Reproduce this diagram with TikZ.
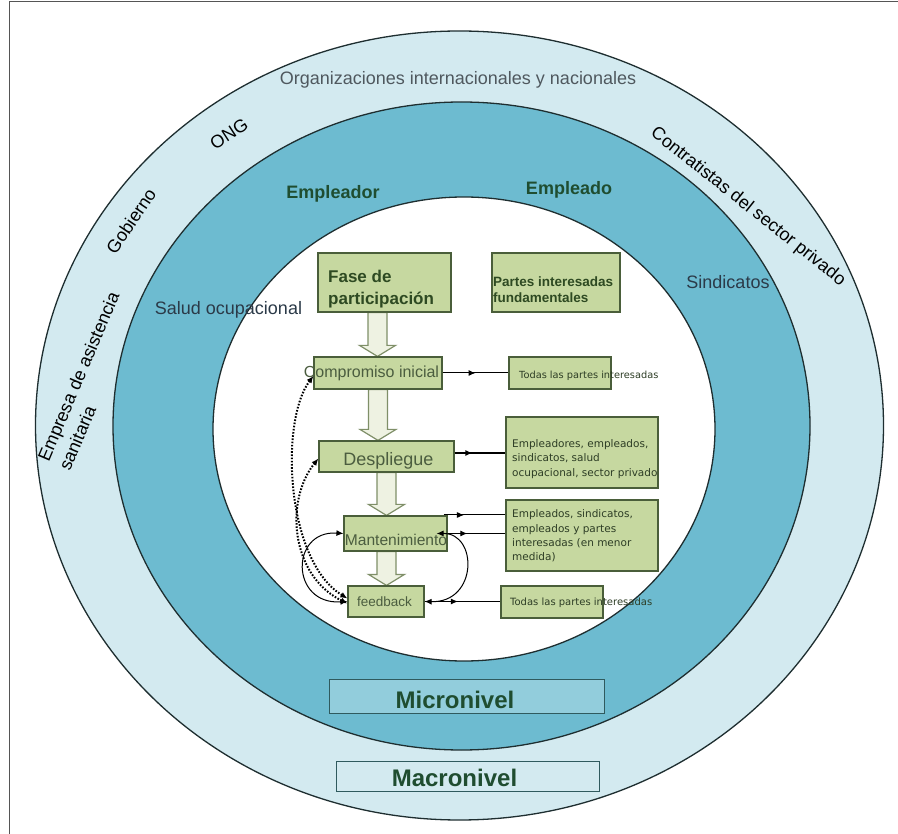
\documentclass[tikz,border=0pt]{standalone}
\usepackage{fontspec}
\setmainfont{Liberation Sans}
\newfontfamily\verdfont{DejaVu Sans}
\usetikzlibrary{arrows.meta,decorations.markings,calc}
\pgfdeclarelayer{bg}
\pgfsetlayers{bg,main}
\definecolor{outerc}{HTML}{D3EAF0}
\definecolor{midc}{HTML}{6DBBD0}
\definecolor{ringline}{HTML}{1E2E30}
\definecolor{boxfill}{HTML}{C6D8A0}
\definecolor{boxline}{HTML}{4A5E3A}
\definecolor{arrfill}{HTML}{EEF2E2}
\definecolor{arrline}{HTML}{7F8F68}
\definecolor{dkgreen}{HTML}{1F4D30}
\definecolor{txtgreen}{HTML}{2E4A22}
\definecolor{midtxt}{HTML}{4B5D3F}
\definecolor{smalltxt}{HTML}{2D3D25}
\definecolor{graytxt}{HTML}{4F585E}
\definecolor{bluetxt}{HTML}{2B3A48}
\definecolor{microfill}{HTML}{92CDDC}
\definecolor{lvline}{HTML}{2F5A5E}
\definecolor{framec}{HTML}{555555}
\tikzset{
  >={Latex[length=7pt,width=6pt]},
  gbox/.style={draw=boxline, line width=1.2pt, fill=boxfill, inner sep=0pt},
  lvbox/.style={draw=lvline, line width=1pt, inner sep=0pt},
  lbl/.style={inner sep=0pt},
  ringdraw/.style={draw=ringline, line width=1.3pt},
  conn/.style={draw=black, line width=1pt},
  dotline/.style={draw=black, line width=2pt, dash pattern=on 1.6pt off 1.6pt},
  midarrow/.style={postaction={decorate}, decoration={markings, mark=at position #1 with {\arrow{Latex[length=7pt,width=6pt]}}}},
  midarrow/.default=0.5,
  f18/.style={font={\fontsize{18}{22}\selectfont}},
  b18/.style={font={\bfseries\fontsize{18}{22}\selectfont}}
}
\newcommand{\blkarrow}[3]{%
  \path[draw=arrline, fill=arrfill, line width=1.2pt] let \p1=(#1.south), \p2=(#2.north) in
   (#3pt-9.5pt,\y1) -- (#3pt-9.5pt,\y2+11pt) -- (#3pt-18pt,\y2+11pt) -- (#3pt,\y2)
   -- (#3pt+18pt,\y2+11pt) -- (#3pt+9.5pt,\y2+11pt) -- (#3pt+9.5pt,\y1) -- cycle;}
\begin{document}
\begin{tikzpicture}[x=1pt,y=-1pt]
\useasboundingbox (0,0) rectangle (898,834);
\begin{pgfonlayer}{bg}
  \fill[white] (0,0) rectangle (898,834);
  \path[ringdraw, fill=outerc] (459.5,425.5) ellipse [x radius=424pt, y radius=394.5pt];
  \path[ringdraw, fill=midc] (461.5,426) ellipse [x radius=348.5pt, y radius=324pt];
  \path[ringdraw, fill=white] (464,429) ellipse [x radius=251pt, y radius=232pt];
\end{pgfonlayer}
\draw[framec, line width=1pt] (9,834) -- (9,1.2) -- (898,1.2);

% ring labels
\node[lbl, f18, text=graytxt] (org) at (458,80) {Organizaciones internacionales y nacionales};
\node[lbl, f18, rotate=33] (ong) at (229,134) {ONG};
\node[lbl, f18, rotate=56] (gob) at (131,221) {Gobierno};
\node[lbl, rotate=67, align=left, font={\fontsize{18}{23}\selectfont}] (emp) at (89,381) {Empresa de asistencia\\sanitaria};
\node[lbl, f18, rotate=-38.5] (contr) at (748,207) {Contratistas del sector privado};
\node[lbl, f18, text=bluetxt] (salud) at (228.5,309.5) {Salud ocupacional};
\node[lbl, f18, text=bluetxt] (sind) at (728,282) {Sindicatos};
\node[lbl, b18, text=dkgreen] (empr) at (333,194) {Empleador};
\node[lbl, b18, text=dkgreen] (empd) at (569,190) {Empleado};

% boxes
\node[gbox, minimum width=133pt, minimum height=59pt] (fase) at (384.5,282.5) {};
\node[gbox, minimum width=128pt, minimum height=59pt] (partes) at (556,282.5) {};
\node[gbox, minimum width=128pt, minimum height=32pt] (comp) at (378,373) {};
\node[gbox, minimum width=102pt, minimum height=32pt] (todas1) at (560,373) {};
\node[gbox, minimum width=135pt, minimum height=31pt] (desp) at (386.5,456.5) {};
\node[gbox, minimum width=152pt, minimum height=71pt] (empl1) at (582,452.5) {};
\node[gbox, minimum width=103pt, minimum height=35pt] (mant) at (395.5,533.5) {};
\node[gbox, minimum width=152pt, minimum height=71pt] (empl2) at (582,535.5) {};
\node[gbox, minimum width=76pt, minimum height=31pt] (feed) at (386,601.5) {};
\node[gbox, minimum width=102pt, minimum height=32pt] (todas2) at (552,602) {};
\node[lvbox, fill=microfill, minimum width=275pt, minimum height=34pt] (micro) at (466.5,696) {};
\node[lvbox, fill=outerc, minimum width=263pt, minimum height=30pt] (macro) at (467.5,776) {};

% box texts
\node[lbl, anchor=west, align=left, text=txtgreen, font={\bfseries\fontsize{17}{22}\selectfont}] (faseT) at (328,289) {Fase de\\participación};
\node[lbl, anchor=west, align=left, text=txtgreen, font={\bfseries\fontsize{13.5}{16}\selectfont}] (partesT) at (493,290) {Partes interesadas\\fundamentales};
\node[lbl, text=midtxt, font={\fontsize{16}{19}\selectfont}] (compT) at (371.5,373) {Compromiso inicial};
\node[lbl, text=midtxt, font={\fontsize{18}{22}\selectfont}] (despT) at (388.5,461) {Despliegue};
\node[lbl, text=midtxt, font={\fontsize{15.6}{19}\selectfont}] (mantT) at (396,540) {Mantenimiento};
\node[lbl, text=midtxt, font={\fontsize{13.5}{16}\selectfont}] (feedT) at (384.5,602) {feedback};
\node[lbl, anchor=west, text=smalltxt, font={\verdfont\fontsize{9.8}{12}\selectfont}] (todas1T) at (519,376) {Todas las partes interesadas};
\node[lbl, anchor=west, align=left, text=smalltxt, font={\verdfont\fontsize{10.5}{14.2}\selectfont}] (empl1T) at (512,459) {Empleadores, empleados,\\sindicatos, salud\\ocupacional, sector privado};
\node[lbl, anchor=west, align=left, text=smalltxt, font={\verdfont\fontsize{10.5}{14.2}\selectfont}] (empl2T) at (512,536) {Empleados, sindicatos,\\empleados y partes\\interesadas (en menor\\medida)};
\node[lbl, anchor=west, text=smalltxt, font={\verdfont\fontsize{10}{12}\selectfont}] (todas2T) at (510,603) {Todas las partes interesadas};
\node[lbl, text=dkgreen, font={\bfseries\fontsize{24}{28}\selectfont}] (microT) at (455,700) {Micronivel};
\node[lbl, text=dkgreen, font={\bfseries\fontsize{24}{28}\selectfont}] (macroT) at (454.5,778) {Macronivel};

% block arrows
\begin{pgfonlayer}{bg}
  \blkarrow{fase}{comp}{377.5}
  \blkarrow{comp}{desp}{378}
  \blkarrow{desp}{mant}{386.5}
  \blkarrow{mant}{feed}{386.5}
\end{pgfonlayer}

% connectors
\draw[conn, midarrow] (comp.east) -- (todas1.west);
\coordinate (d1) at ([yshift=3.5pt]desp.east);
\draw[conn, line width=1.4pt, midarrow=0.35] (d1) -- (d1 -| empl1.west);
\coordinate (m1) at ([xshift=-4pt,yshift=18.5pt]mant.east);
\draw[conn, midarrow=0.33] (m1) -- (m1 -| empl2.west);
\draw[conn, midarrow=0.34] (mant.east) -- (mant.east -| empl2.west);
\draw[conn, midarrow=0.44] (feed.east) -- (feed.east -| todas2.west);

\draw[conn, <->] (feed.east) .. controls (478,603) and (478,533) .. ([xshift=-11pt]mant.east);
\draw[conn, <->] (mant.west) .. controls (290,530) and (290,605) .. (feed.west);

\draw[dotline, <->] ([yshift=3pt]feed.west) .. controls (285,560) and (280,420) .. ([yshift=-3pt]comp.west);
\draw[dotline, <->] ([yshift=-2pt]feed.west) .. controls (290,575) and (285,500) .. ([yshift=-2pt]desp.west);
\end{tikzpicture}
\end{document}
